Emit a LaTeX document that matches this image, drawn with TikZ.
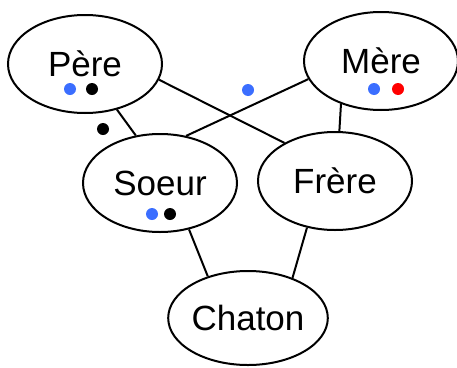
\documentclass[tikz,border=0pt]{standalone}
\usepackage{fontspec}
\setmainfont{Liberation Sans}
\usetikzlibrary{shapes.geometric}
\definecolor{dotblue}{RGB}{59,110,255}
\definecolor{dotred}{RGB}{255,0,0}
\begin{document}
\begin{tikzpicture}[x=1pt,y=-1pt,
  person/.style={ellipse,draw,line width=2pt,inner sep=0pt,
    minimum width=154pt,minimum height=98pt,
    font=\fontsize{35}{35}\selectfont,text height=25pt,text depth=0pt},
  link/.style={line width=2pt},
  tok/.style={circle,inner sep=0pt,minimum size=12pt}]
\useasboundingbox (0,0) rectangle (457,367);
\node[person] (pere) at (85,64) {Père};
\node[person] (mere) at (381,61) {Mère};
\node[person] (soeur) at (160,183) {Soeur};
\node[person] (frere) at (335,181) {Frère};
\node[person,minimum height=94pt] (chaton) at (248,318) {Chaton};
\draw[link] (pere.-55) -- (soeur.117);
\draw[link] (pere.-12) -- (frere.143);
\draw[link] (mere.194) -- (soeur.61);
\draw[link] (mere.-133) -- (frere.85);
\draw[link] (soeur.-58) -- (chaton.134);
\draw[link] (frere.-121) -- (chaton.42);
\node[tok,fill=dotblue] (p1) at (70,89) {};
\node[tok,fill=black] (p2) at (92,89) {};
\node[tok,fill=black] (b1) at (103,129) {};
\node[tok,fill=dotblue] (m0) at (248,90) {};
\node[tok,fill=dotblue] (m1) at (374,89) {};
\node[tok,fill=dotred] (m2) at (398,89) {};
\node[tok,fill=dotblue] (s1) at (152,214) {};
\node[tok,fill=black] (s2) at (170,214) {};
\end{tikzpicture}
\end{document}
